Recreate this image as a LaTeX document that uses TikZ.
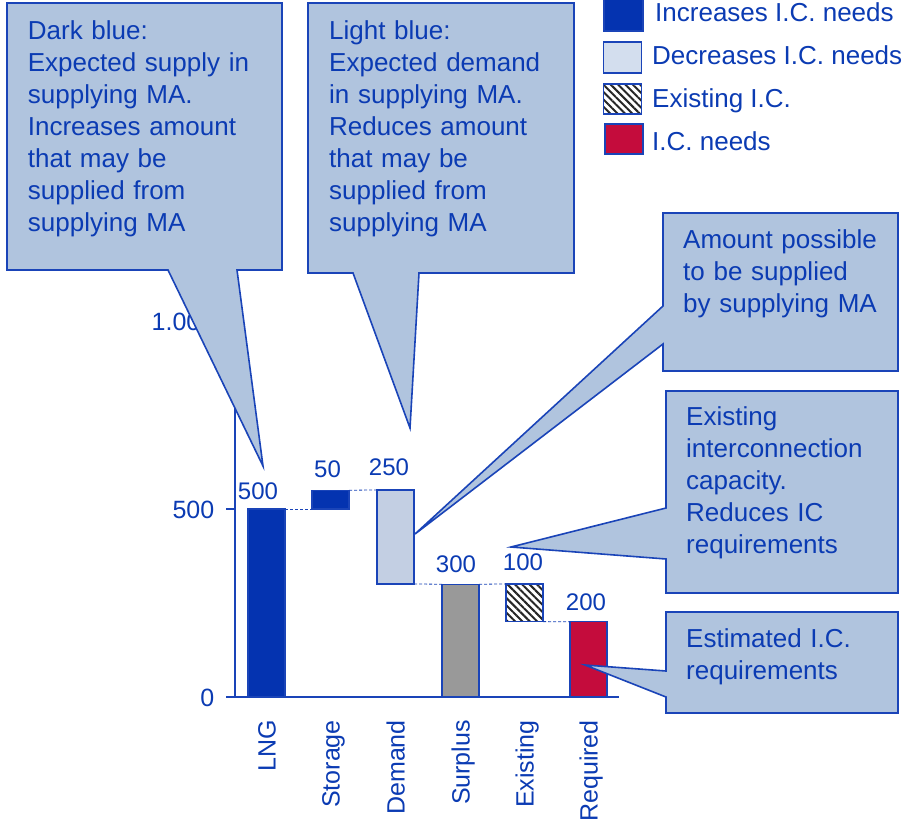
\documentclass[tikz,border=0pt]{standalone}
\usepackage{fontspec}
\setmainfont{Liberation Sans}
\usetikzlibrary{patterns.meta}
\definecolor{txtblue}{HTML}{0B3BB3}
\definecolor{barblue}{HTML}{0433B0}
\definecolor{barlight}{HTML}{C3CFE3}
\definecolor{leglight}{HTML}{D3DEEE}
\definecolor{bargray}{HTML}{999999}
\definecolor{barred}{HTML}{C40C3C}
\definecolor{callfill}{HTML}{B0C4DE}
\definecolor{lineblue}{HTML}{1A44B8}
\begin{document}
\begin{tikzpicture}[x=1pt,y=-1pt,
  font=\fontsize{26}{32}\selectfont, text=txtblue,
  callout/.style={fill=callfill, draw=lineblue, line width=1.6pt, line join=miter},
  calltext/.style={anchor=base west, inner sep=0pt, align=left, text width=#1},
  barbox/.style={draw=lineblue, line width=1.2pt, minimum width=37pt, inner sep=0pt, outer sep=0pt, anchor=south},
  dashline/.style={draw=lineblue, dash pattern=on 3pt off 2pt, line width=0.8pt},
  axisline/.style={draw=lineblue, line width=1.4pt},
  vallabel/.style={anchor=base, inner sep=0pt, font=\fontsize{24}{28}\selectfont},
  catlabel/.style={rotate=90, anchor=base east, inner sep=0pt, font=\fontsize{25}{30}\selectfont},
  ticklabel/.style={anchor=base east, inner sep=0pt, font=\fontsize{25}{30}\selectfont},
  hatch/.style={preaction={fill=white}, pattern={Lines[angle=-45,distance=5.2pt,line width=2pt]}, pattern color=black!85},
  legbox/.style={draw=lineblue, line width=1.4pt, minimum width=38pt, minimum height=30pt, inner sep=0pt, anchor=center},
  legtext/.style={anchor=base west, inner sep=0pt}
]
\path[fill=white] (0,0) rectangle (909,827);
\useasboundingbox (0,0) rectangle (909,827);

% ---- axis ----
\coordinate (axtop) at (235,321);
\coordinate (axbot) at (235,697);
\coordinate (axright) at (619,697);
\coordinate (axleft) at (226,697);
\coordinate (t500a) at (226,509);
\coordinate (t500b) at (235,509);
\coordinate (t1000a) at (226,321);
\coordinate (t1000b) at (235,321);
\draw[axisline] (axtop) -- (axbot);
\draw[axisline] (axleft) -- (axright);
\draw[axisline] (t500a) -- (t500b);
\draw[axisline] (t1000a) -- (t1000b);
\node[ticklabel] (tk0) at (214.5,706) {0};
\node[ticklabel] (tk500) at (214.5,518) {500};
\node[ticklabel] (tk1000) at (214.5,330) {1.000};

% ---- bars ----
\node[barbox, fill=barblue, minimum height=188pt] (lng) at (266.5,697) {};
\node[barbox, fill=barblue, minimum height=18.8pt] (sto) at (330.5,509) {};
\node[barbox, fill=barlight, minimum height=94pt] (dem) at (395.5,584) {};
\node[barbox, fill=bargray, minimum height=112.8pt] (sur) at (460.5,697) {};
\node[barbox, hatch, line width=1.5pt, minimum height=37.6pt] (exi) at (524.5,621.6) {};
\node[barbox, fill=barred, minimum height=75.2pt] (req) at (588.5,697) {};

\draw[dashline] (lng.north east) -- (sto.south west);
\draw[dashline] (sto.north east) -- (dem.north west);
\draw[dashline] (dem.south east) -- (sur.north west);
\draw[dashline] (sur.north east) -- (exi.north west);
\draw[dashline] (exi.south east) -- (req.north west);

% ---- value labels ----
\node[vallabel] (v1) at (258,499) {500};
\node[vallabel] (v2) at (327.5,477) {50};
\node[vallabel] (v3) at (389,475) {250};
\node[vallabel] (v4) at (456,572) {300};
\node[vallabel] (v5) at (523,570) {100};
\node[vallabel] (v6) at (586,610) {200};

% ---- category labels ----
\node[catlabel] (c1) at (275.5,720) {LNG};
\node[catlabel] (c2) at (339.5,720) {Storage};
\node[catlabel] (c3) at (404.5,720) {Demand};
\node[catlabel] (c4) at (469.5,720) {Surplus};
\node[catlabel] (c5) at (533.5,720) {Existing};
\node[catlabel] (c6) at (597.5,720) {Required};

% ---- legend ----
\node[legbox, fill=barblue, minimum height=32pt, minimum width=39pt] (lg1) at (623.5,15) {};
\node[legbox, fill=leglight, minimum height=31pt] (lg2) at (622.5,57.5) {};
\node[legbox, hatch] (lg3) at (622.5,99) {};
\node[legbox, fill=barred] (lg4) at (624,139) {};
\node[legtext] (lt1) at (655,21) {Increases I.C. needs};
\node[legtext] (lt2) at (652,64) {Decreases I.C. needs};
\node[legtext] (lt3) at (652,107) {Existing I.C.};
\node[legtext] (lt4) at (652,150) {I.C. needs};

% ---- callouts ----
\coordinate (tip1) at (263,466);
\coordinate (tip2) at (410,428);
\coordinate (tip3) at (415,534);
\coordinate (tip4) at (511,547);
\coordinate (tip5) at (585,665);

\draw[callout] (7,3) -- (282,3) -- (282,270) -- (237,270) -- (tip1) -- (168,270) -- (7,270) -- cycle;
\node[calltext=250pt] (ct1) at (27.7,39) {Dark blue:\\Expected supply in\\supplying MA.\\Increases amount\\that may be\\supplied from\\supplying MA};

\draw[callout] (308,3) -- (574,3) -- (574,273) -- (419,273) -- (tip2) -- (353,273) -- (308,273) -- cycle;
\node[calltext=240pt] (ct2) at (329,39) {Light blue:\\Expected demand\\in supplying MA.\\Reduces amount\\that may be\\supplied from\\supplying MA};

\draw[callout] (663,213) -- (898,213) -- (898,371) -- (663,371) -- (663,344) -- (tip3) -- (663,306) -- cycle;
\node[calltext=210pt] (ct3) at (683,248) {Amount possible\\to be supplied\\by supplying MA};

\draw[callout] (666,391) -- (898,391) -- (898,593) -- (666,593) -- (666,559) -- (tip4) -- (666,508) -- cycle;
\node[calltext=205pt] (ct4) at (686,425.5) {Existing\\interconnection\\capacity.\\Reduces IC\\requirements};

\draw[callout] (666,612) -- (898,612) -- (898,713) -- (666,713) -- (666,697) -- (tip5) -- (666,671) -- cycle;
\node[calltext=205pt] (ct5) at (686,647) {Estimated I.C.\\requirements};
\end{tikzpicture}
\end{document}
